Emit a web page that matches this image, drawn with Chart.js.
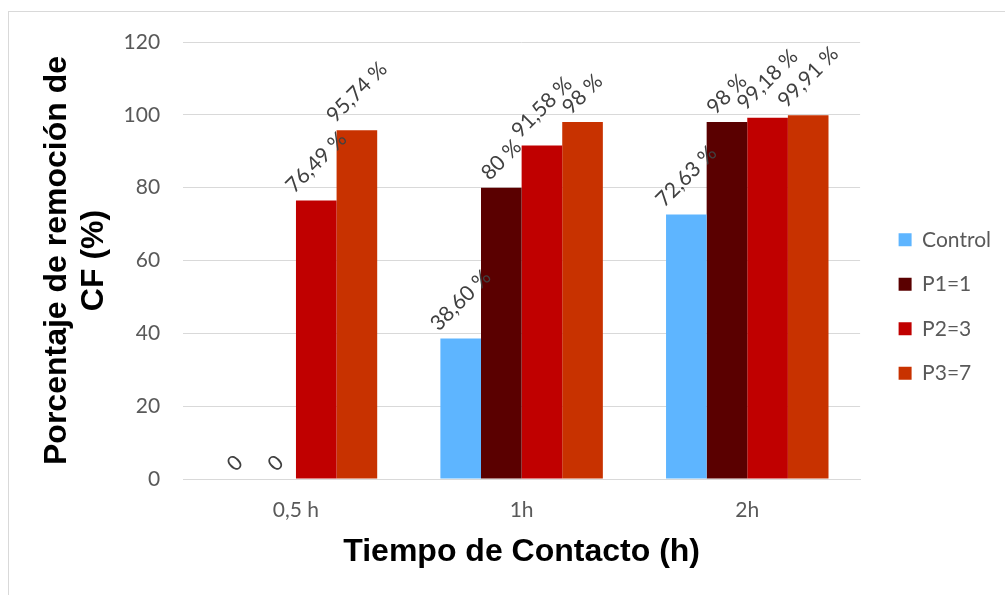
<!DOCTYPE html>
<html>
<head>
<meta charset="utf-8">
<script src="https://cdn.jsdelivr.net/npm/chart.js@4.4.0/dist/chart.umd.min.js"></script>
<style>
  html, body { margin: 0; padding: 0; background: #fff; }
  #frame { position: absolute; left: 8px; top: 11px; width: 1100px; height: 700px; border: 1px solid #d9d9d9; }
  #wrap { position: absolute; left: 0; top: 0; width: 1005px; height: 595px; }
</style>
</head>
<body>
<div id="frame"></div>
<div id="wrap"><canvas id="chart"></canvas></div>
<script>
// data
const categories = ['0,5 h', '1h', '2h'];
const seriesNames = ['Control', 'P1=1', 'P2=3', 'P3=7'];
const controlValues = [0, 38.60, 72.63];
const p1Values = [0, 80, 98];
const p2Values = [76.49, 91.58, 99.18];
const p3Values = [95.74, 98, 99.91];
const yTicks = [0, 20, 40, 60, 80, 100, 120];

const seriesColors = ['#5EB5FF', '#5A0000', '#C00000', '#C83200'];

// "76,49 %", "80 %", "0"
function formatValue(v) {
    if (v === 0) return '0';
    const s = Number.isInteger(v) ? String(v) : v.toFixed(2).replace('.', ',');
    return s + ' %';
}

// Rotated value labels above each bar
const barLabels = {
    id: 'barLabels',
    afterDatasetsDraw(chart) {
        const ctx = chart.ctx;
        ctx.save();
        ctx.font = '21px Lato';
        ctx.fillStyle = '#404040';
        ctx.textAlign = 'center';
        ctx.textBaseline = 'middle';
        chart.data.datasets.forEach((ds, i) => {
            chart.getDatasetMeta(i).data.forEach((bar, j) => {
                const text = formatValue(ds.data[j]);
                const w = ctx.measureText(text).width;
                const half = (w + 15) * Math.SQRT1_2 / 2;
                ctx.save();
                ctx.translate(bar.x, bar.y - half - 6);
                ctx.rotate(-Math.PI / 4);
                ctx.fillText(text, 0, 0);
                ctx.restore();
            });
        });
        ctx.restore();
    }
};

// push the legend a bit away from the plot area
const legendShift = {
    id: 'legendShift',
    afterLayout(chart) {
        if (chart.legend) {
            chart.legend.left += 15;
            chart.legend.right += 15;
        }
    }
};

const allValues = [controlValues, p1Values, p2Values, p3Values];

new Chart(document.getElementById('chart'), {
    type: 'bar',
    data: {
        labels: categories,
        datasets: seriesNames.map((name, i) => ({
            label: name,
            data: allValues[i],
            backgroundColor: seriesColors[i],
            borderWidth: 0,
            categoryPercentage: 0.72,
            barPercentage: 1.0
        }))
    },
    options: {
        responsive: true,
        maintainAspectRatio: false,
        animation: false,
        layout: {
            padding: { left: 39, right: 19, top: 42, bottom: 24 }
        },
        plugins: {
            legend: {
                position: 'right',
                labels: {
                    boxWidth: 13,
                    boxHeight: 13,
                    padding: 23.5,
                    color: '#595959',
                    font: { family: 'Lato', size: 21 }
                }
            },
            tooltip: { enabled: false }
        },
        scales: {
            x: {
                grid: { display: false, drawTicks: false },
                border: { display: true, color: '#d9d9d9', width: 1 },
                ticks: {
                    color: '#595959',
                    padding: 19,
                    font: { family: 'Lato', size: 21 }
                },
                title: {
                    display: true,
                    text: 'Tiempo de Contacto (h)',
                    color: '#000',
                    padding: { top: -8, bottom: 0 },
                    font: { family: 'Liberation Sans', size: 32, weight: 'bold', lineHeight: 1.15 }
                }
            },
            y: {
                min: 0,
                max: 120,
                afterBuildTicks: axis => {
                    axis.ticks = yTicks.map(v => ({ value: v }));
                },
                grid: { color: '#d9d9d9', drawTicks: false },
                border: { display: false },
                ticks: {
                    color: '#595959',
                    padding: 23,
                    font: { family: 'Lato', size: 21 }
                },
                title: {
                    display: true,
                    text: ['Porcentaje de remoción de', 'CF (%)'],
                    color: '#000',
                    padding: { top: 0, bottom: -12 },
                    font: { family: 'Liberation Sans', size: 32, weight: 'bold', lineHeight: 1.15 }
                }
            }
        }
    },
    plugins: [barLabels, legendShift]
});
</script>
</body>
</html>
